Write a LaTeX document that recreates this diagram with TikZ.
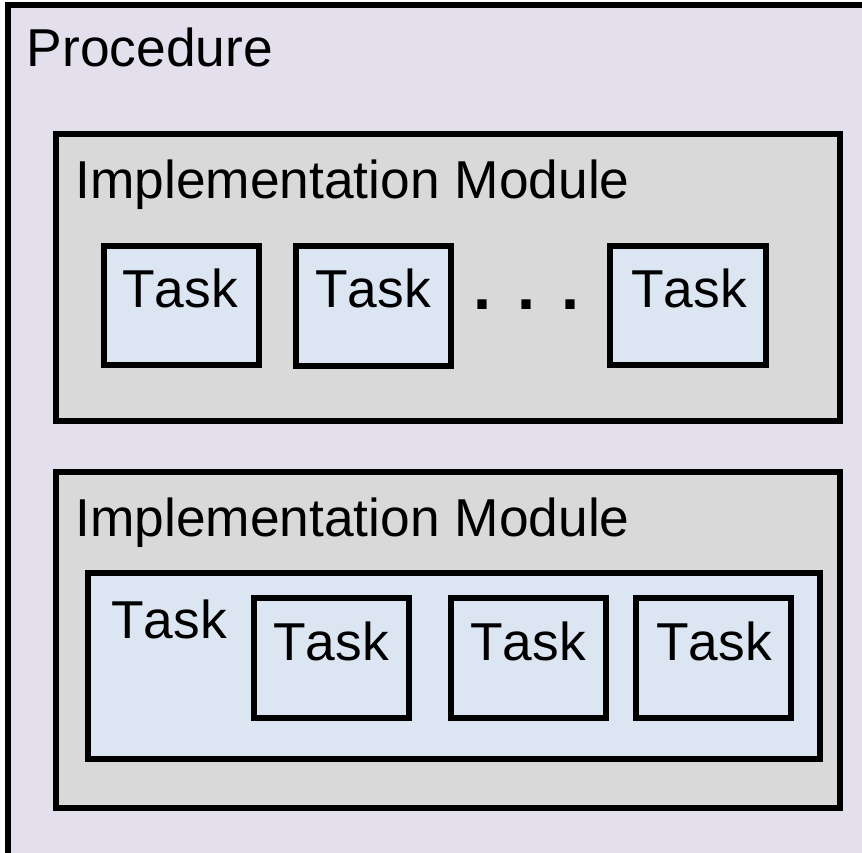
\documentclass[tikz,border=0pt]{standalone}
\usepackage{fontspec}
\setmainfont[Kerning=Off]{Liberation Sans}
\definecolor{proccol}{RGB}{228,223,236}
\definecolor{modcol}{RGB}{217,217,217}
\definecolor{taskcol}{RGB}{220,230,242}
\begin{document}
\begin{tikzpicture}[x=0.75pt,y=-0.75pt,
  sz/.style 2 args={minimum width=#1*0.75pt, minimum height=#2*0.75pt},
  boxbase/.style={draw=black, line width=4.5pt, inner sep=0pt, rectangle},
  procbox/.style={boxbase, fill=proccol},
  modbox/.style={boxbase, fill=modcol},
  taskbox/.style={boxbase, fill=taskcol},
  lbl/.style={anchor=base west, inner sep=0pt, font=\fontsize{40pt}{48pt}\selectfont}]
\useasboundingbox (0,0) rectangle (862,852);
\begin{scope}
\clip (0,0) rectangle (862,852);
\node[procbox, sz={862}{864.5}] (proc) at (439,437.75) {};
\end{scope}
\node[lbl] (proclbl) at (26.5,67) {Procedure};
% module 1
\node[modbox, sz={784}{287}] (mod1) at (448,277.5) {};
\node[lbl] (mod1lbl) at (75,199) {Implementation Module};
\node[taskbox, sz={155}{119}] (t1) at (181.5,305.5) {};
\node[taskbox, sz={155}{120}] (t2) at (373.5,306) {};
\node[taskbox, sz={156}{119}] (t3) at (688,305.5) {};
\node[lbl] (t1lbl) at (122,307) {Task};
\node[lbl] (t2lbl) at (315,307) {Task};
\node[lbl] (t3lbl) at (631,307) {Task};
\node[anchor=base west, inner sep=0pt, font=\fontsize{48.75pt}{56pt}\selectfont\bfseries] (dots) at (473.5,309) {.\hspace{19.5pt}.\hspace{19.5pt}.};
% module 2
\node[modbox, sz={784}{336}] (mod2) at (448,640) {};
\node[lbl] (mod2lbl) at (75,536) {Implementation Module};
\node[taskbox, sz={732}{186}] (tc) at (454,666) {};
\node[lbl] (tclbl) at (111,638) {Task};
\node[taskbox, sz={155}{120}] (ta) at (331.5,658) {};
\node[taskbox, sz={155}{120}] (tb) at (528.5,658) {};
\node[taskbox, sz={155}{120}] (td) at (713.5,658) {};
\node[lbl] (talbl) at (273,660) {Task};
\node[lbl] (tblbl) at (470,660) {Task};
\node[lbl] (tdlbl) at (656,660) {Task};
\end{tikzpicture}
\end{document}
